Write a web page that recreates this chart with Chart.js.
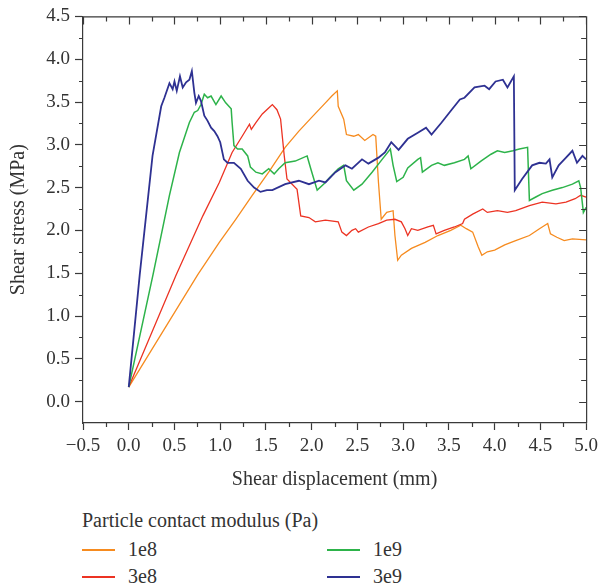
<!DOCTYPE html>
<html>
<head>
<meta charset="utf-8">
<title>Shear stress vs displacement</title>
<script src="https://cdn.jsdelivr.net/npm/chart.js@4.4.0/dist/chart.umd.min.js"></script>
<style>
    body { margin: 0; background: #fff; }
    #wrap { position: relative; width: 603px; height: 587px; font-family: 'Liberation Serif', 'DejaVu Serif', serif; color: #333; }
    #chartBox { position: absolute; left: 0; top: 0; width: 603px; height: 500px; }
    #legend { position: absolute; left: 0; top: 500px; width: 603px; height: 87px; font-family: 'Liberation Serif', 'DejaVu Serif', serif; font-size: 20px; line-height: 24px; }
    #legend .title { position: absolute; left: 82px; top: 8px; white-space: nowrap; }
    #legend .swatch { position: absolute; width: 33px; height: 2px; }
    #legend .label { position: absolute; white-space: nowrap; font-family: 'Liberation Serif', serif; font-size: 20px; }
</style>
</head>
<body>
<div id="wrap">
    <div id="chartBox"><canvas id="myLineChart"></canvas></div>
    <div id="legend"></div>
</div>
<script>
// Series: displacement (mm) and shear stress (MPa)
const seriesLabels = ['1e8', '3e8', '1e9', '3e9'];
const seriesColors = ['#f68b1f', '#ec3323', '#2db34a', '#2e3192'];

const disp1e8 = [0, 0.753, 0.99, 1.17, 1.35, 1.53, 1.71, 1.86, 2.0, 2.15, 2.22, 2.28, 2.29, 2.35, 2.38, 2.46, 2.51, 2.58, 2.67, 2.70, 2.73, 2.76, 2.82, 2.89, 2.91, 2.94, 2.98, 3.09, 3.24, 3.38, 3.52, 3.63, 3.69, 3.76, 3.82, 3.86, 3.92, 4.0, 4.11, 4.23, 4.38, 4.49, 4.58, 4.61, 4.68, 4.76, 4.85, 5.0];
const stress1e8 = [0.17, 1.48, 1.86, 2.13, 2.41, 2.68, 2.97, 3.16, 3.32, 3.49, 3.57, 3.63, 3.45, 3.30, 3.12, 3.10, 3.12, 3.05, 3.12, 3.10, 2.56, 2.13, 2.21, 2.23, 1.94, 1.65, 1.71, 1.79, 1.86, 1.94, 2.0, 2.06, 2.02, 1.98, 1.81, 1.71, 1.75, 1.77, 1.83, 1.88, 1.94, 2.02, 2.08, 1.96, 1.92, 1.88, 1.90, 1.89];

const disp3e8 = [0, 0.518, 0.81, 0.99, 1.13, 1.24, 1.32, 1.34, 1.39, 1.46, 1.53, 1.57, 1.62, 1.66, 1.70, 1.73, 1.84, 1.88, 1.97, 2.04, 2.15, 2.29, 2.33, 2.38, 2.44, 2.48, 2.51, 2.62, 2.73, 2.82, 2.91, 2.98, 3.02, 3.05, 3.09, 3.16, 3.27, 3.33, 3.36, 3.45, 3.56, 3.65, 3.67, 3.76, 3.87, 3.92, 4.03, 4.14, 4.23, 4.38, 4.52, 4.67, 4.78, 4.88, 4.94, 5.0];
const stress3e8 = [0.17, 1.48, 2.17, 2.56, 2.91, 3.10, 3.24, 3.18, 3.26, 3.36, 3.43, 3.47, 3.41, 3.30, 2.87, 2.60, 2.48, 2.17, 2.15, 2.10, 2.12, 2.10, 1.98, 1.94, 2.0, 2.02, 1.98, 2.04, 2.08, 2.12, 2.13, 2.10, 2.02, 1.94, 2.02, 2.0, 2.04, 2.06, 1.96, 2.0, 2.04, 2.08, 2.13, 2.19, 2.25, 2.21, 2.23, 2.21, 2.23, 2.29, 2.33, 2.31, 2.33, 2.37, 2.41, 2.39];

const disp1e9 = [0, 0.265, 0.445, 0.554, 0.663, 0.717, 0.754, 0.79, 0.826, 0.862, 0.90, 0.953, 1.01, 1.06, 1.12, 1.13, 1.15, 1.19, 1.24, 1.30, 1.33, 1.39, 1.46, 1.53, 1.59, 1.64, 1.71, 1.82, 1.95, 1.99, 2.06, 2.13, 2.20, 2.29, 2.35, 2.38, 2.46, 2.55, 2.66, 2.77, 2.86, 2.89, 2.93, 3.0, 3.05, 3.16, 3.19, 3.21, 3.31, 3.38, 3.45, 3.56, 3.67, 3.71, 3.74, 3.85, 3.96, 4.03, 4.11, 4.20, 4.27, 4.36, 4.38, 4.45, 4.52, 4.63, 4.74, 4.85, 4.92, 4.94, 4.97, 5.0];
const stress1e9 = [0.17, 1.48, 2.41, 2.91, 3.26, 3.38, 3.40, 3.47, 3.59, 3.55, 3.57, 3.47, 3.57, 3.49, 3.42, 3.26, 2.99, 2.95, 2.95, 2.87, 2.74, 2.68, 2.66, 2.72, 2.66, 2.72, 2.79, 2.81, 2.87, 2.72, 2.47, 2.54, 2.62, 2.72, 2.76, 2.58, 2.47, 2.54, 2.68, 2.83, 2.95, 2.76, 2.57, 2.62, 2.73, 2.83, 2.85, 2.68, 2.76, 2.79, 2.76, 2.79, 2.83, 2.87, 2.72, 2.81, 2.89, 2.93, 2.91, 2.93, 2.95, 2.97, 2.35, 2.39, 2.43, 2.47, 2.50, 2.54, 2.58, 2.50, 2.21, 2.27];

const disp3e9 = [0, 0.12, 0.26, 0.355, 0.39, 0.445, 0.48, 0.50, 0.525, 0.56, 0.59, 0.627, 0.663, 0.69, 0.717, 0.735, 0.765, 0.79, 0.826, 0.862, 0.90, 0.935, 0.97, 1.0, 1.04, 1.08, 1.15, 1.225, 1.30, 1.37, 1.44, 1.51, 1.57, 1.71, 1.86, 1.97, 2.08, 2.15, 2.26, 2.37, 2.44, 2.55, 2.62, 2.73, 2.80, 2.87, 2.95, 3.05, 3.16, 3.25, 3.31, 3.42, 3.53, 3.62, 3.67, 3.78, 3.89, 3.94, 4.01, 4.09, 4.14, 4.21, 4.22, 4.30, 4.41, 4.49, 4.56, 4.60, 4.63, 4.70, 4.78, 4.85, 4.90, 4.96, 5.0];
const stress3e9 = [0.17, 1.48, 2.87, 3.45, 3.55, 3.72, 3.65, 3.74, 3.63, 3.80, 3.67, 3.73, 3.76, 3.86, 3.61, 3.49, 3.57, 3.51, 3.34, 3.28, 3.20, 3.16, 3.10, 3.03, 2.83, 2.79, 2.79, 2.72, 2.58, 2.50, 2.45, 2.47, 2.47, 2.54, 2.58, 2.54, 2.58, 2.56, 2.68, 2.76, 2.72, 2.83, 2.78, 2.85, 2.91, 3.03, 2.94, 3.07, 3.14, 3.20, 3.12, 3.26, 3.41, 3.53, 3.55, 3.67, 3.69, 3.65, 3.74, 3.76, 3.67, 3.80, 2.47, 2.60, 2.76, 2.79, 2.78, 2.83, 2.62, 2.76, 2.85, 2.93, 2.79, 2.87, 2.83];

const xTickValues = [-0.5, 0, 0.5, 1.0, 1.5, 2.0, 2.5, 3.0, 3.5, 4.0, 4.5, 5.0];
const xMinorValues = [-0.25, 0.25, 0.75, 1.25, 1.75, 2.25, 2.75, 3.25, 3.75, 4.25, 4.75];
const yTickValues = [0, 0.5, 1.0, 1.5, 2.0, 2.5, 3.0, 3.5, 4.0, 4.5];
const yMinorValues = [0.25, 0.75, 1.25, 1.75, 2.25, 2.75, 3.25, 3.75, 4.25];

const axisColor = '#3a3a3a';
const textColor = '#333';
const serif = "'Liberation Serif', 'DejaVu Serif', serif";

function toPoints(xs, ys) {
    return xs.map((v, i) => ({ x: v, y: ys[i] }));
}

function tickText(v) {
    return (v < 0 ? '\u2212' : '') + Math.abs(v).toFixed(1);
}

// marcos superior y derecho con ticks hacia dentro, y ticks menores
const frameTicks = {
    id: 'frameTicks',
    afterDraw(chart) {
        const { ctx, chartArea: a } = chart;
        const x = chart.scales.x;
        const y = chart.scales.y;
        ctx.save();
        ctx.strokeStyle = axisColor;
        ctx.lineWidth = 1.2;
        ctx.beginPath();
        ctx.moveTo(a.left, a.top + 0.5);
        ctx.lineTo(a.right + 0.5, a.top + 0.5);
        ctx.lineTo(a.right + 0.5, a.bottom);
        xTickValues.forEach(v => {
            const px = Math.round(x.getPixelForValue(v)) + 0.5;
            ctx.moveTo(px, a.top);
            ctx.lineTo(px, a.top + 8);
        });
        xMinorValues.forEach(v => {
            const px = Math.round(x.getPixelForValue(v)) + 0.5;
            ctx.moveTo(px, a.top);
            ctx.lineTo(px, a.top + 5);
            ctx.moveTo(px, a.bottom);
            ctx.lineTo(px, a.bottom + 4);
        });
        yTickValues.forEach(v => {
            const py = Math.round(y.getPixelForValue(v)) + 0.5;
            ctx.moveTo(a.right, py);
            ctx.lineTo(a.right - 7, py);
        });
        yMinorValues.forEach(v => {
            const py = Math.round(y.getPixelForValue(v)) + 0.5;
            ctx.moveTo(a.right, py);
            ctx.lineTo(a.right - 5, py);
            ctx.moveTo(a.left, py);
            ctx.lineTo(a.left - 4, py);
        });
        ctx.stroke();
        ctx.restore();
    }
};

function createLineChart() {
    const ctx = document.getElementById('myLineChart').getContext('2d');

    const xs = [disp1e8, disp3e8, disp1e9, disp3e9];
    const ys = [stress1e8, stress3e8, stress1e9, stress3e9];
    const widths = [1.3, 1.3, 1.5, 1.8];

    const datasets = seriesLabels.map((label, i) => ({
        label: label,
        data: toPoints(xs[i], ys[i]),
        borderColor: seriesColors[i],
        backgroundColor: seriesColors[i],
        borderWidth: widths[i],
        pointRadius: 0,
        tension: 0,
        fill: false,
        order: 4 - i
    }));

    new Chart(ctx, {
        type: 'line',
        data: { datasets: datasets },
        options: {
            responsive: true,
            maintainAspectRatio: false,
            animation: false,
            devicePixelRatio: 1,
            layout: { padding: { top: 15, right: 14, left: 0, bottom: 0 } },
            plugins: {
                legend: { display: false },
                tooltip: { enabled: false }
            },
            scales: {
                x: {
                    type: 'linear',
                    min: -0.5,
                    max: 5,
                    afterBuildTicks: scale => { scale.ticks = xTickValues.map(v => ({ value: v })); },
                    afterFit: scale => { scale.height = 77; },
                    grid: { drawOnChartArea: false, tickLength: 7, tickColor: axisColor, tickWidth: 1.2 },
                    border: { color: axisColor, width: 1.2 },
                    ticks: {
                        callback: v => tickText(v),
                        color: textColor,
                        padding: 5,
                        maxRotation: 0,
                        autoSkip: false,
                        font: { family: serif, size: 19 }
                    },
                    title: {
                        display: true,
                        text: 'Shear displacement (mm)',
                        color: textColor,
                        padding: { top: 0, bottom: 8 },
                        font: { family: serif, size: 20 }
                    }
                },
                y: {
                    type: 'linear',
                    min: -0.25,
                    max: 4.5,
                    afterBuildTicks: scale => { scale.ticks = yTickValues.map(v => ({ value: v })); },
                    afterFit: scale => { scale.width = 83; },
                    grid: { drawOnChartArea: false, tickLength: 8, tickColor: axisColor, tickWidth: 1.2 },
                    border: { color: axisColor, width: 1.2 },
                    ticks: {
                        callback: v => tickText(v),
                        color: textColor,
                        padding: 5,
                        autoSkip: false,
                        font: { family: serif, size: 19 }
                    },
                    title: {
                        display: true,
                        text: 'Shear stress (MPa)',
                        color: textColor,
                        padding: { top: 7, bottom: 0 },
                        font: { family: serif, size: 20 }
                    }
                }
            }
        },
        plugins: [frameTicks]
    });
}

function buildLegend() {
    const box = document.getElementById('legend');
    box.innerHTML = '<div class="title">Particle contact modulus (Pa)</div>';
    // dos columnas: 1e8/3e8 a la izquierda, 1e9/3e9 a la derecha
    const colX = [82, 82, 327, 327];
    const rowY = [50, 77, 50, 77];
    seriesLabels.forEach((label, i) => {
        box.innerHTML += `<div class="swatch" style="left:${colX[i]}px;top:${rowY[i] - 1}px;background:${seriesColors[i]}"></div>
        <div class="label" style="left:${colX[i] + 46}px;top:${rowY[i] - 13}px">${label}</div>`;
    });
}

document.addEventListener('DOMContentLoaded', createLineChart);
document.addEventListener('DOMContentLoaded', buildLegend);
</script>
</body>
</html>
